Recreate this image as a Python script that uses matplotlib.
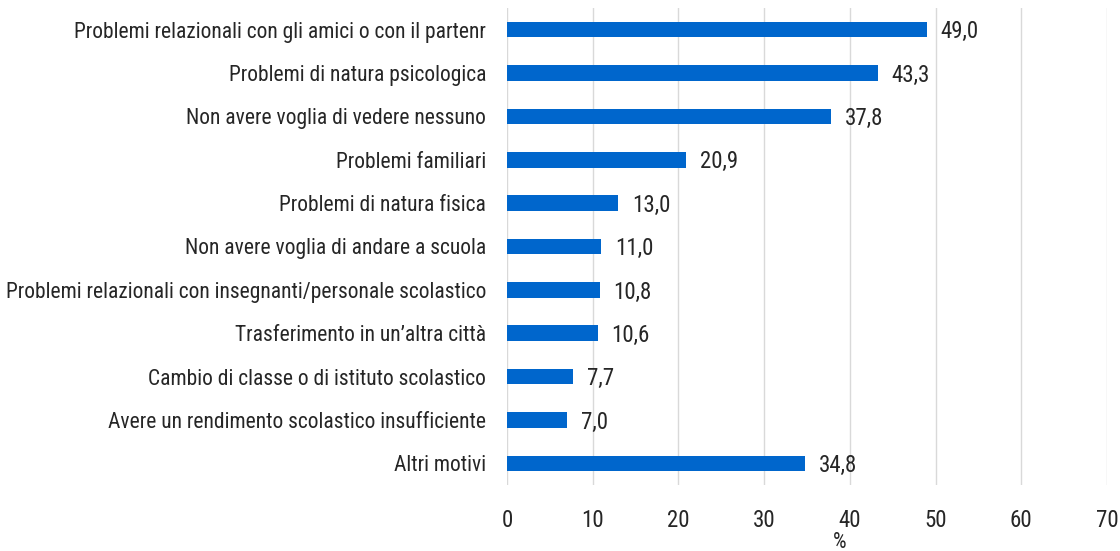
import matplotlib.pyplot as plt
from matplotlib import font_manager

# pick a narrow sans face if one is installed
def narrow_font():
    prefs = ['Liberation Sans Narrow', 'Roboto Condensed', 'Arial Narrow', 'Noto Sans',
             'DejaVu Sans', 'Open Sans', 'Roboto']
    cands = [f for f in font_manager.fontManager.ttflist
             if f.style == 'normal' and f.weight in (400, 'normal', 'regular')
             and (f.stretch in ('condensed', 'semi-condensed', 'extra-condensed')
                  or 'Narrow' in f.name or 'Condensed' in f.name
                  or 'Condensed' in f.fname and 'Bold' not in f.fname and 'Semi' not in f.fname
                  and 'Extra' not in f.fname and 'Light' not in f.fname
                  and 'Medium' not in f.fname and 'Thin' not in f.fname
                  and 'Black' not in f.fname and 'Italic' not in f.fname)]
    for p in prefs:
        for f in cands:
            if f.name == p:
                return f.fname
    return cands[0].fname if cands else None

path = narrow_font()
fp = font_manager.FontProperties(fname=path) if path else font_manager.FontProperties(family='DejaVu Sans')

motivi = [
    "Problemi relazionali con gli amici o con il partenr",
    "Problemi di natura psicologica",
    "Non avere voglia di vedere nessuno",
    "Problemi familiari",
    "Problemi di natura fisica",
    "Non avere voglia di andare a scuola",
    "Problemi relazionali con insegnanti/personale scolastico",
    "Trasferimento in un\u2019altra città",
    "Cambio di classe o di istituto scolastico",
    "Avere un rendimento scolastico insufficiente",
    "Altri motivi",
]
valori = [49.0, 43.3, 37.8, 20.9, 13.0, 11.0, 10.8, 10.6, 7.7, 7.0, 34.8]
ticks = [0, 10, 20, 30, 40, 50, 60, 70]

fs = 15.5
fs_num = 16.5
fig = plt.figure(figsize=(11.2, 5.51), dpi=100)
ax = fig.add_axes([0.4527, 0.1198, 0.5357, 0.8657])

pos = list(range(len(motivi)))
ax.barh(pos, valori, height=0.36, color='#0066CC', zorder=3)
for y, v in zip(pos, valori):
    ax.text(v + 1.6, y + 0.05, f"{v:.1f}".replace('.', ','), va='center', ha='left',
            fontproperties=fp, fontsize=fs_num, color='#262626')

ax.set_ylim(len(motivi) - 0.5, -0.5)
ax.set_xlim(0, 70)
ax.set_xticks(ticks)
ax.set_yticks(pos)
ax.set_yticklabels(motivi)
ax.set_xticklabels([str(t) for t in ticks])
for lab in ax.get_yticklabels():
    lab.set_fontproperties(fp)
    lab.set_fontsize(fs)
    lab.set_color('#262626')
for lab in ax.get_xticklabels():
    lab.set_fontproperties(fp)
    lab.set_fontsize(fs_num)
    lab.set_color('#262626')
ax.tick_params(axis='x', length=0, pad=17)
ax.tick_params(axis='y', length=0, pad=15)
ax.grid(axis='x', color='#d9d9d9', linewidth=1, zorder=0)
for s in ax.spines.values():
    s.set_visible(False)
ax.set_xlabel('%', fontproperties=fp, fontsize=fs, color='#262626')
ax.xaxis.set_label_coords(0.555, -0.098)

fig.savefig('out.png', dpi=100)
